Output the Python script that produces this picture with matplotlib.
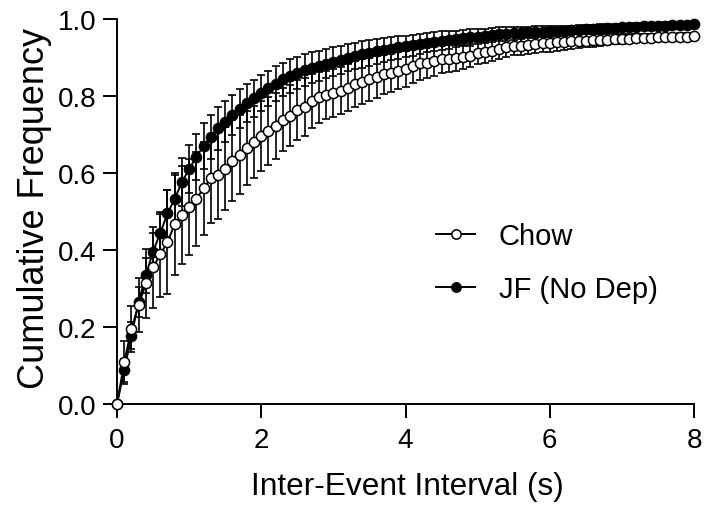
import numpy as np
import matplotlib
matplotlib.use("Agg")
import matplotlib.pyplot as plt

plt.rcParams['font.family'] = ['Liberation Sans', 'DejaVu Sans']

# Inter-event interval bins (s)
interval = [round(0.1 * i, 1) for i in range(81)]

chow = [0.000, 0.108, 0.195, 0.257, 0.313, 0.355, 0.389, 0.420, 0.467, 0.491,
        0.512, 0.533, 0.560, 0.586, 0.594, 0.611, 0.632, 0.648, 0.665, 0.680,
        0.695, 0.710, 0.722, 0.738, 0.749, 0.763, 0.772, 0.788, 0.797, 0.803,
        0.808, 0.814, 0.822, 0.831, 0.837, 0.844, 0.850, 0.856, 0.861, 0.865,
        0.870, 0.879, 0.885, 0.887, 0.892, 0.896, 0.897, 0.899, 0.901, 0.905,
        0.911, 0.913, 0.918, 0.922, 0.928, 0.931, 0.931, 0.932, 0.935, 0.937,
        0.938, 0.940, 0.941, 0.942, 0.943, 0.944, 0.945, 0.946, 0.946, 0.947,
        0.948, 0.949, 0.950, 0.950, 0.951, 0.952, 0.952, 0.953, 0.954, 0.954,
        0.955]
chow_sem = [0.000, 0.055, 0.060, 0.070, 0.090, 0.105, 0.110, 0.135, 0.133, 0.128,
            0.125, 0.122, 0.120, 0.115, 0.113, 0.108, 0.105, 0.102, 0.097, 0.094,
            0.091, 0.088, 0.085, 0.082, 0.080, 0.078, 0.075, 0.070, 0.066, 0.063,
            0.062, 0.061, 0.060, 0.059, 0.058, 0.056, 0.054, 0.052, 0.050, 0.048,
            0.046, 0.045, 0.043, 0.041, 0.039, 0.037, 0.035, 0.033, 0.031, 0.030,
            0.029, 0.028, 0.027, 0.026, 0.026, 0.025, 0.025, 0.024, 0.024, 0.023,
            0.023, 0.022, 0.021, 0.020, 0.019, 0.018, 0.017, 0.015, 0.014, 0.013,
            0.012, 0.012, 0.011, 0.011, 0.010, 0.010, 0.010, 0.009, 0.009, 0.009,
            0.008]

jf = [0.000, 0.088, 0.177, 0.265, 0.334, 0.396, 0.444, 0.495, 0.533, 0.576,
      0.610, 0.642, 0.670, 0.694, 0.716, 0.733, 0.750, 0.767, 0.781, 0.794,
      0.807, 0.820, 0.832, 0.843, 0.852, 0.860, 0.867, 0.873, 0.879, 0.884,
      0.889, 0.894, 0.899, 0.904, 0.908, 0.912, 0.916, 0.920, 0.923, 0.926,
      0.929, 0.932, 0.935, 0.938, 0.941, 0.944, 0.946, 0.948, 0.950, 0.952,
      0.954, 0.956, 0.958, 0.960, 0.961, 0.963, 0.964, 0.965, 0.966, 0.967,
      0.968, 0.969, 0.970, 0.971, 0.972, 0.973, 0.974, 0.975, 0.976, 0.977,
      0.978, 0.979, 0.980, 0.981, 0.981, 0.982, 0.983, 0.984, 0.984, 0.985,
      0.986]
jf_sem = [0.000, 0.030, 0.035, 0.040, 0.045, 0.048, 0.050, 0.060, 0.062, 0.062,
          0.063, 0.060, 0.060, 0.057, 0.055, 0.053, 0.052, 0.050, 0.049, 0.048,
          0.047, 0.046, 0.045, 0.044, 0.043, 0.042, 0.041, 0.040, 0.039, 0.038,
          0.037, 0.036, 0.035, 0.034, 0.034, 0.033, 0.032, 0.031, 0.030, 0.029,
          0.028, 0.027, 0.026, 0.025, 0.025, 0.024, 0.023, 0.022, 0.021, 0.021,
          0.020, 0.019, 0.018, 0.018, 0.017, 0.017, 0.016, 0.015, 0.015, 0.014,
          0.014, 0.013, 0.013, 0.012, 0.012, 0.011, 0.011, 0.011, 0.010, 0.010,
          0.010, 0.009, 0.009, 0.009, 0.008, 0.008, 0.008, 0.008, 0.007, 0.007,
          0.007]

x_ticks = [0, 2, 4, 6, 8]
y_ticks = [0.0, 0.2, 0.4, 0.6, 0.8, 1.0]
series_labels = ["Chow", "JF (No Dep)"]

fig = plt.figure(figsize=(7.17, 5.06), dpi=100)
ax = fig.add_axes([117/717, 101/506, 577/717, 385/506])

ms = 7.3
# JF (filled) first, Chow (open) on top
ax.errorbar(interval, jf, yerr=jf_sem, fmt='none', ecolor='black',
            elinewidth=1.2, capsize=2.9, capthick=1.2, clip_on=False, zorder=2)
l_jf, = ax.plot(interval, jf, '-o', color='black', lw=1.4, ms=ms,
                mfc='black', mec='black', mew=1.1, clip_on=False, zorder=3,
                label=series_labels[1])
ax.errorbar(interval, chow, yerr=chow_sem, fmt='none', ecolor='black',
            elinewidth=1.2, capsize=2.9, capthick=1.2, clip_on=False, zorder=4)
l_chow, = ax.plot(interval, chow, '-o', color='black', lw=1.4, ms=ms,
                  mfc='white', mec='black', mew=1.1, clip_on=False, zorder=5,
                  label=series_labels[0])

ax.set_xlim(0, 8)
ax.set_ylim(0, 1.0)
ax.set_xticks(x_ticks)
ax.set_yticks(y_ticks)
ax.set_xticklabels([str(t) for t in x_ticks])
ax.set_yticklabels([f"{t:.1f}" for t in y_ticks])

for s in ['top', 'right']:
    ax.spines[s].set_visible(False)
for s in ['left', 'bottom']:
    ax.spines[s].set_linewidth(1.4)
ax.tick_params(axis='both', direction='out', length=10, width=1.4,
               labelsize=20)
ax.tick_params(axis='x', pad=6.5)
ax.tick_params(axis='y', pad=5)

ax.set_xlabel("Inter-Event Interval (s)", fontsize=22.8)
ax.set_ylabel("Cumulative Frequency", fontsize=26)
ax.xaxis.set_label_coords(0.504, -0.174)
ax.yaxis.set_label_coords(-0.113, 0.51)

leg = ax.legend(handles=[l_chow, l_jf], loc='center left',
                bbox_to_anchor=(0.553, 0.3675), frameon=False, fontsize=21,
                handlelength=1.35, handletextpad=0.8, labelspacing=0.85,
                borderpad=0, borderaxespad=0, markerscale=0.92)

fig.savefig("out.png", dpi=100)
